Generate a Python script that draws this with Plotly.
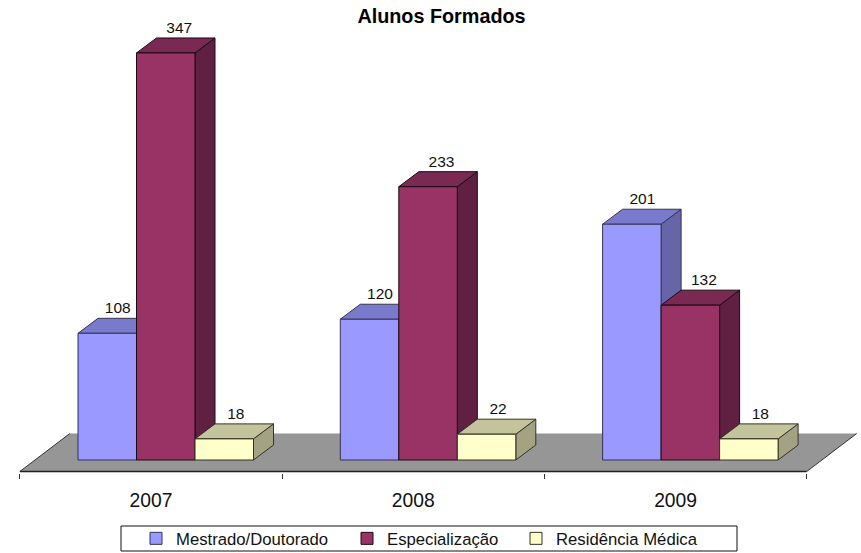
import plotly.graph_objects as go

# --- data ---
years = ["2007", "2008", "2009"]
mestrado = [108, 120, 201]
especializacao = [347, 233, 132]
residencia = [18, 22, 18]
series_names = ["Mestrado/Doutorado", "Especialização", "Residência Médica"]
series_values = [mestrado, especializacao, residencia]
front_colors = ["#9999FF", "#993366", "#FFFFCC"]
top_colors = ["#7A7ACC", "#7A2952", "#C4C49C"]
side_colors = ["#6565A8", "#602041", "#A3A384"]
edge_colors = ["#333355", "#1a0a14", "#333322"]
legend_ids = ["legend", "legend2", "legend3"]
legend_left_px = [136, 347, 516]
label_shift_px = [0.5, 3.5, 1.5]

# --- geometry, in axis units ---
W, H = 861, 553
PX_X = 262.3            # pixels per category
PX_Y = 1.173            # pixels per student
BASE_PX, FLOOR_PX, AXIS_PX = 460, 471.5, 473
CENTER0_PX = 151
bar_w = 58.5 / PX_X
start = -73 / PX_X
dx, dy = 20 / PX_X, 15 / PX_Y
fx, fy = 50 / PX_X, 38 / PX_Y  # floor depth
x_lo, x_hi = -CENTER0_PX / PX_X, (W - CENTER0_PX) / PX_X
y_lo, y_hi = -(AXIS_PX - BASE_PX) / PX_Y, BASE_PX / PX_Y
y_floor = -(FLOOR_PX - BASE_PX) / PX_Y


def poly(points, fill, line):
    path = "M " + " L ".join(f"{a},{b}" for a, b in points) + " Z"
    return dict(type="path", path=path, xref="x", yref="y", layer="below",
                fillcolor=fill, line=dict(color=line, width=1))


shapes = []
# floor
shapes.append(dict(type="path", xref="x", yref="y", layer="below",
                   path=f"M -0.5,{y_floor} L {-0.5+fx},{y_floor+fy} L {2.5+fx},{y_floor+fy} L 2.5,{y_floor} Z",
                   fillcolor="#969696", line=dict(width=0)))
shapes.append(dict(type="line", xref="x", yref="y", layer="below", x0=-0.5, x1=-0.5 + fx,
                   y0=y_floor, y1=y_floor + fy, line=dict(color="#333333", width=1)))
shapes.append(dict(type="line", xref="x", yref="y", layer="below", x0=2.5, x1=2.5 + fx,
                   y0=y_floor, y1=y_floor + fy, line=dict(color="#333333", width=1)))
shapes.append(dict(type="line", xref="x", yref="y", layer="below", x0=-0.5, x1=2.5,
                   y0=y_floor, y1=y_floor, line=dict(color="#222222", width=1.5)))
# legend frame
shapes.append(dict(type="rect", xref="paper", yref="paper", layer="below",
                   x0=121 / W, x1=737 / W, y0=1 - 551 / H, y1=1 - 526 / H,
                   fillcolor="white", line=dict(color="#111111", width=1)))

# depth faces of each bar, from the same values as the bars
for g in range(len(years)):
    for s, vals in enumerate(series_values):
        v = vals[g]
        x0 = g + start + s * bar_w
        x1 = x0 + bar_w
        shapes.append(poly([(x1, 0), (x1 + dx, dy), (x1 + dx, v + dy), (x1, v)],
                           side_colors[s], edge_colors[s]))
        shapes.append(poly([(x0, v), (x0 + dx, v + dy), (x1 + dx, v + dy), (x1, v)],
                           top_colors[s], edge_colors[s]))

fig = go.Figure()
label_x, label_y, label_t = [], [], []
for s, (name, vals) in enumerate(zip(series_names, series_values)):
    xs = [g + start + (s + 0.5) * bar_w for g in range(len(years))]
    fig.add_trace(go.Bar(
        x=xs, y=vals, width=bar_w, name=name, legend=legend_ids[s],
        marker=dict(color=front_colors[s], line=dict(color=edge_colors[s], width=1)),
        hoverinfo="name+y",
    ))
    label_x += [a + dx / 2 + label_shift_px[s] / PX_X for a in xs]
    label_y += [v + dy + 9 / PX_Y for v in vals]
    label_t += [str(v) for v in vals]

fig.add_trace(go.Scatter(
    x=label_x, y=label_y, text=label_t, mode="text", showlegend=False,
    textposition="middle center", hoverinfo="skip",
    textfont=dict(family="Liberation Sans", size=15.5, color="#111111"),
))


def legend_at(left):
    return dict(x=left / W, xanchor="left", y=1 - 538.5 / H, yanchor="middle",
                borderwidth=0, bgcolor="rgba(0,0,0,0)",
                font=dict(family="Liberation Sans", size=16.7, color="#111111"),
                itemclick=False, itemdoubleclick=False)


fig.update_layout(
    width=W, height=H, autosize=False,
    margin=dict(l=0, r=0, t=0, b=0, autoexpand=False),
    paper_bgcolor="white", plot_bgcolor="rgba(0,0,0,0)",
    barmode="overlay",
    shapes=shapes,
    title=dict(text="<b>Alunos Formados</b>", x=441.5 / W, xanchor="center", y=1 - 16 / H, yanchor="middle",
               font=dict(family="Liberation Sans", size=19.8, color="black")),
    xaxis=dict(range=[x_lo, x_hi], showgrid=False, zeroline=False, showline=False,
               tickmode="array", tickvals=list(range(len(years))), ticktext=years, ticks="",
               tickfont=dict(family="Liberation Sans", size=19.3, color="#111111"), ticklabelstandoff=14,
               minor=dict(tickmode="array", tickvals=[-0.5, 0.5, 1.5, 2.5], ticks="outside", ticklen=5,
                          tickcolor="#333333", tickwidth=1, showgrid=False),
               fixedrange=True),
    yaxis=dict(range=[y_lo, y_hi], domain=[1 - AXIS_PX / H, 1], visible=False, fixedrange=True),
    legend=legend_at(legend_left_px[0]),
    legend2=legend_at(legend_left_px[1]),
    legend3=legend_at(legend_left_px[2]),
    showlegend=True,
)
fig.write_html("out.html", config={"displayModeBar": False},
               post_script="document.body.style.margin='0';document.body.style.overflow='hidden';")
